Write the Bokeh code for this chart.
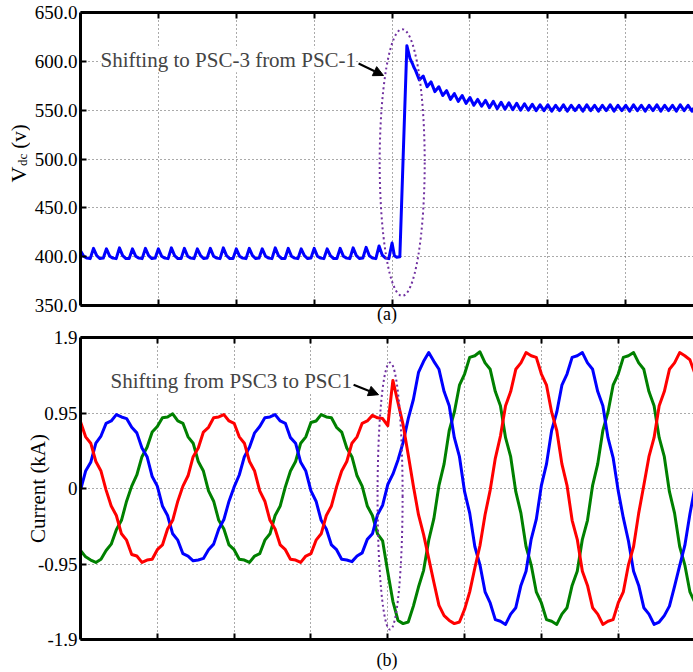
from bokeh.plotting import figure
from bokeh.layouts import column, row
from bokeh.models import (Label, Arrow, NormalHead, FixedTicker,
                          NumeralTickFormatter, LinearAxis, Range1d)
from bokeh.core.properties import value
from bokeh.embed import file_html
from bokeh.resources import INLINE
import math

FONT = "Liberation Serif"

# ---------------- data ----------------
# (a) DC-link voltage, V
vdc_step_a = 1.0 / 24
vdc_a = [406, 400.5, 398.5, 398, 408.5, 401, 398, 398.5, 408, 400.5, 398.5, 398,
         409, 401, 398, 398, 408, 400.5, 398.5, 398, 408.5, 401, 398, 398.5,
         408, 400.5, 398.5, 398, 409, 401, 398, 398, 408.5, 400.5, 398.5, 398,
         408, 401, 398, 398.5, 408.5, 400.5, 398.5, 398, 409, 401, 398, 398,
         408, 400.5, 398.5, 398, 408.5, 401, 398, 398.5, 408, 400.5, 398.5, 398,
         409, 401, 398, 398, 408.5, 400.5, 398.5, 398, 408, 401, 398, 398.5,
         408.5, 400.5, 398.5, 398, 408, 401, 398, 398, 408.5, 400.5, 398.5, 398,
         409, 401, 398, 398.5, 409.5, 401, 398.5, 398, 411, 401.5, 398.5, 398,
         414]
vdc_t_b = [4.03, 4.06, 4.10, 4.19, 4.23, 4.26, 4.28]
vdc_b = [401, 399.5, 400, 616, 603, 598, 594]
vdc_c_start = 4.30
vdc_c_step = 0.05
vdc_c = [591, 581, 585, 574, 579, 569, 574, 565, 570, 561,
         567, 559, 565, 557, 563, 555, 561, 554, 560, 552.5,
         559, 551.5, 558, 551, 557.5, 550.5, 557, 550, 556.5, 550,
         556, 549.5, 555.5, 549.5, 555.5, 549, 555, 549.5, 555.5, 549,
         555, 549.5, 555, 549, 555.5, 549.5, 555, 549, 555, 549.5,
         555.5, 549, 555, 549.5, 555, 549, 555.5, 549.5, 555, 549,
         555, 549.5, 555.5, 549, 555, 549.5, 555, 549, 555.5, 549.5,
         555, 549, 555]

# (b) three-phase currents, kA (sampled every 1/15 grid division)
cur_step = 1.0 / 15
i_blue = [-0.02, 0.22, 0.33, 0.57, 0.66, 0.82, 0.85, 0.93, 0.90, 0.88,
          0.77, 0.70, 0.51, 0.40, 0.15, 0.03, -0.22, -0.34, -0.57, -0.65,
          -0.82, -0.85, -0.91, -0.90, -0.88, -0.77, -0.70, -0.51, -0.39, -0.16,
          0.02, 0.17, 0.40, 0.52, 0.70, 0.78, 0.89, 0.90, 0.93, 0.85,
          0.82, 0.64, 0.57, 0.33, 0.22, -0.03, -0.16, -0.40, -0.51, -0.71,
          -0.77, -0.89, -0.90, -0.92, -0.85, -0.81, -0.64, -0.57, -0.33, -0.21,
          0.05, 0.18, 0.36, 0.58, 0.88, 1.12, 1.46, 1.60, 1.71, 1.60,
          1.50, 1.22, 1.04, 0.64, 0.40, -0.04, -0.31, -0.73, -0.96, -1.30,
          -1.44, -1.65, -1.67, -1.71, -1.58, -1.50, -1.22, -1.04, -0.64, -0.39,
          0.04, 0.31, 0.73, 0.96, 1.30, 1.44, 1.65, 1.67, 1.71, 1.58,
          1.50, 1.22, 1.04, 0.64, 0.39, -0.03, -0.37, -0.66, -1.04, -1.22,
          -1.50, -1.58, -1.71, -1.68, -1.60, -1.48, -1.23, -0.97, -0.72, -0.32,
          0.02]
i_green = [-0.78, -0.86, -0.90, -0.93, -0.89, -0.78, -0.70, -0.52, -0.40, -0.16,
           0.03, 0.17, 0.40, 0.52, 0.71, 0.78, 0.89, 0.90, 0.94, 0.85,
           0.82, 0.65, 0.57, 0.34, 0.22, -0.03, -0.16, -0.40, -0.51, -0.71,
           -0.77, -0.89, -0.90, -0.93, -0.85, -0.82, -0.65, -0.57, -0.34, -0.22,
           0.02, 0.22, 0.34, 0.57, 0.65, 0.83, 0.85, 0.93, 0.90, 0.89,
           0.77, 0.71, 0.51, 0.40, 0.16, 0.03, -0.22, -0.34, -0.57, -0.66,
           -1.05, -1.42, -1.66, -1.70, -1.68, -1.48, -1.24, -1.03, -0.65, -0.38,
           0.04, 0.31, 0.73, 0.96, 1.30, 1.44, 1.65, 1.67, 1.72, 1.58,
           1.50, 1.22, 1.04, 0.64, 0.40, -0.04, -0.31, -0.73, -0.96, -1.30,
           -1.44, -1.65, -1.67, -1.71, -1.58, -1.50, -1.22, -1.04, -0.64, -0.40,
           0.04, 0.31, 0.73, 0.96, 1.30, 1.44, 1.65, 1.67, 1.71, 1.58,
           1.50, 1.22, 1.04, 0.64, 0.40, -0.04, -0.31, -0.73, -0.96, -1.30,
           -1.44]
i_red = [0.84, 0.65, 0.57, 0.34, 0.22, -0.02, -0.22, -0.34, -0.57, -0.65,
         -0.83, -0.85, -0.93, -0.90, -0.89, -0.77, -0.71, -0.51, -0.40, -0.16,
         0.03, 0.16, 0.40, 0.51, 0.71, 0.77, 0.89, 0.90, 0.93, 0.85,
         0.82, 0.65, 0.57, 0.34, 0.22, -0.03, -0.16, -0.40, -0.51, -0.71,
         -0.77, -0.89, -0.90, -0.93, -0.85, -0.82, -0.65, -0.57, -0.34, -0.22,
         0.02, 0.22, 0.34, 0.57, 0.65, 0.82, 0.85, 0.92, 0.89, 0.88,
         0.79, 1.36, 1.08, 0.80, 0.42, 0.03, -0.33, -0.58, -0.88, -1.18,
         -1.47, -1.60, -1.66, -1.70, -1.68, -1.52, -1.30, -1.00, -0.72, -0.33,
         -0.02, 0.38, 0.66, 1.04, 1.22, 1.50, 1.58, 1.71, 1.67, 1.65,
         1.44, 1.30, 0.96, 0.73, 0.31, 0.04, -0.40, -0.64, -1.04, -1.22,
         -1.50, -1.58, -1.71, -1.67, -1.65, -1.44, -1.30, -0.96, -0.73, -0.31,
         0.04, 0.40, 0.64, 1.04, 1.22, 1.50, 1.58, 1.71, 1.67, 1.62,
         1.44]

vdc_ticks = [350, 400, 450, 500, 550, 600, 650]
cur_ticks = [-1.9, -0.95, 0, 0.95, 1.9]
cur_tick_labels = ["-1.9", "-0.95", "0", "0.95", "1.9"]
x_ticks = [1, 2, 3, 4, 5, 6, 7]

label_a = "Shifting to PSC-3 from PSC-1"
label_b = "Shifting from PSC3 to PSC1"
vdc_label_parts = ["V", "dc", "(v)"]

vdc_t = ([i * vdc_step_a for i in range(len(vdc_a))] + vdc_t_b +
         [vdc_c_start + i * vdc_c_step for i in range(len(vdc_c))])
vdc_v = vdc_a + vdc_b + vdc_c
cur_t = [i * cur_step for i in range(len(i_blue))]


def style_axis(ax, hide_labels=False):
    ax.axis_line_width = 3
    ax.axis_line_color = "black"
    ax.major_tick_line_width = 2
    ax.major_tick_line_color = "black"
    ax.major_tick_in = 6
    ax.major_tick_out = 0
    ax.minor_tick_line_color = None
    ax.major_label_text_font = FONT
    ax.major_label_text_font_size = "19px"
    ax.major_label_text_color = "black"
    ax.major_label_standoff = 3
    ax.axis_label_text_font = FONT
    ax.axis_label_text_font_style = "normal"
    ax.axis_label_text_color = "black"
    if hide_labels:
        ax.major_label_overrides = {t: "" for t in x_ticks}
        ax.major_label_text_font_size = "1px"
        ax.major_label_standoff = 0


def make_fig(width, height, xmax, yrange, left, top, bottom):
    p = figure(width=width, height=height, x_range=Range1d(0, xmax),
               y_range=Range1d(*yrange), output_backend="svg",
               toolbar_location=None, min_border_left=left, min_border_right=0,
               min_border_top=top, min_border_bottom=bottom)
    p.outline_line_color = None
    p.background_fill_color = "white"
    p.border_fill_color = "white"
    bottom_ax = p.below[0]
    bottom_ax.ticker = FixedTicker(ticks=x_ticks)
    style_axis(bottom_ax, hide_labels=True)
    style_axis(p.left[0])
    top_ax = LinearAxis(ticker=FixedTicker(ticks=x_ticks))
    style_axis(top_ax, hide_labels=True)
    p.add_layout(top_ax, "above")
    p.grid.grid_line_color = "#555555"
    p.grid.grid_line_dash = "1 3"
    p.grid.grid_line_width = 1
    return p, bottom_ax


# ---------------- (a) ----------------
p1, p1_bottom = make_fig(663, 326, 7.87, (350, 650), 50, 12, 21)
p1.left[0].ticker = FixedTicker(ticks=vdc_ticks)
p1.left[0].formatter = NumeralTickFormatter(format="0.0")
p1_bottom.axis_label = "(a)"
p1_bottom.axis_label_text_font_size = "18px"
p1_bottom.axis_label_standoff = -2
p1.line(vdc_t, vdc_v, line_color="#0000FF", line_width=3, line_join="round")
p1.ellipse(x=[4.13], y=[496.4], width=[0.578], height=[273.4],
           fill_color=None, line_color="#7030A0", line_width=2, line_dash="2 3")
p1.add_layout(Label(x=0.257, y=601, text=label_a, text_font=FONT,
                    text_font_size="21px", text_align="left",
                    text_baseline="middle", background_fill_color="white"))
p1.add_layout(Arrow(end=NormalHead(size=10, fill_color="black", line_color="black"),
                    x_start=3.57, y_start=597.8, x_end=3.89, y_end=585.5,
                    line_width=2, line_color="black"))

# y-axis title strip for (a): V with subscript dc
strip = figure(width=30, height=326, x_range=Range1d(0, 1), y_range=p1.y_range,
               output_backend="svg", toolbar_location=None,
               x_axis_type=None, y_axis_type=None,
               min_border_left=0, min_border_right=0,
               min_border_top=12, min_border_bottom=21)
strip.outline_line_color = None
strip.grid.visible = False
strip.text(x=[0.6], y=[484], text=[vdc_label_parts[0]], angle=math.pi / 2,
           text_font=value(FONT), text_font_size="22px",
           text_align="center", text_baseline="middle", text_color="black")
strip.text(x=[0.74], y=[499], text=[vdc_label_parts[1]], angle=math.pi / 2,
           text_font=value(FONT), text_font_size="13px",
           text_align="center", text_baseline="middle", text_color="black")
strip.text(x=[0.6], y=[523], text=[vdc_label_parts[2]], angle=math.pi / 2,
           text_font=value(FONT), text_font_size="21px",
           text_align="center", text_baseline="middle", text_color="black")

# ---------------- (b) ----------------
p2, p2_bottom = make_fig(693, 346, 7.98, (-1.9, 1.9), 80, 11, 32)
p2.left[0].ticker = FixedTicker(ticks=cur_ticks)
p2.left[0].major_label_overrides = {t: s for t, s in zip(cur_ticks, cur_tick_labels)}
p2.left[0].axis_label = "Current (kA)"
p2.left[0].axis_label_text_font_size = "21px"
p2.left[0].axis_label_standoff = -15
p2_bottom.axis_label = "(b)"
p2_bottom.axis_label_text_font_size = "18px"
p2_bottom.axis_label_standoff = 10
p2.line(cur_t, i_green, line_color="#008000", line_width=3, line_join="round")
p2.line(cur_t, i_blue, line_color="#0000FF", line_width=3, line_join="round")
p2.line(cur_t, i_red, line_color="#FF0000", line_width=3, line_join="round")
p2.ellipse(x=[4.03], y=[-0.095], width=[0.326], height=[3.36],
           fill_color=None, line_color="#7030A0", line_width=2, line_dash="2 3")
p2.add_layout(Label(x=0.39, y=1.347, text=label_b, text_font=FONT,
                    text_font_size="21px", text_align="left",
                    text_baseline="middle", background_fill_color="white"))
p2.add_layout(Arrow(end=NormalHead(size=10, fill_color="black", line_color="black"),
                    x_start=3.555, y_start=1.305, x_end=3.88, y_end=1.18,
                    line_width=2, line_color="black"))

layout = column(row(strip, p1, spacing=0), p2, spacing=0)
open("out.html", "w").write(file_html(layout, INLINE))
